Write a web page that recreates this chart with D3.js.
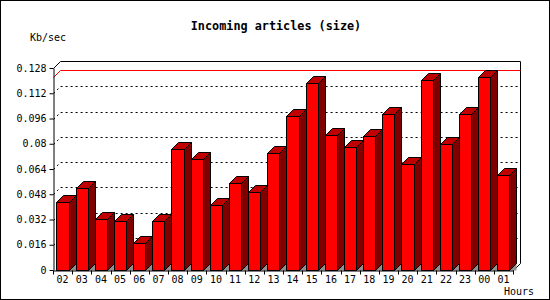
<!DOCTYPE html>
<html lang="en">
<head>
<meta charset="UTF-8">
<title>Incoming articles (size)</title>
<script src="https://d3js.org/d3.v7.min.js"></script>
<style>
    body {margin: 0; background: #fff;}
    text {font-family: "DejaVu Sans Mono", monospace;}
</style>
</head>
<body>
<div id="chart"></div>
<script>
// Hours on the x axis
var hours = ["02","03","04","05","06","07","08","09","10","11","12","13",
             "14","15","16","17","18","19","20","21","22","23","00","01"];
// Kb/sec per hour
var sizes = [0.0429, 0.0518, 0.0321, 0.0309, 0.0169, 0.0309, 0.0765, 0.0705,
             0.0410, 0.0549, 0.0492, 0.0739, 0.0974, 0.1183, 0.0853, 0.0777,
             0.0847, 0.0986, 0.0670, 0.1202, 0.0796, 0.0986, 0.1221, 0.0600];
var yTicks = [0, 0.016, 0.032, 0.048, 0.064, 0.08, 0.096, 0.112, 0.128];

var width = 550, height = 300;
// plot box (front plane); "top" is taken by window.top so use other names
var plotLeft = 53, plotRight = 513, plotBottom = 270, plotTop = 68;
var depth = 7;

var data = hours.map(function(h, i){ return {hour: h, size: sizes[i]}; });

var svg = d3.select("#chart").append("svg")
    .attr("width", width)
    .attr("height", height);

// outer border
svg.append("rect")
    .attr("x", 0.5).attr("y", 0.5)
    .attr("width", width - 1).attr("height", height - 1)
    .attr("fill", "#fff").attr("stroke", "#000");

var x = d3.scaleBand()
    .domain(hours)
    .range([plotLeft, plotRight]);

var y = d3.scaleLinear()
    .domain([0, 0.128])
    .range([plotBottom, plotTop]);

function yr(v){ return Math.round(y(v)); }

// dotted grid lines on the back wall
svg.append("g").selectAll("path")
    .data(yTicks.slice(1, -1))
    .enter().append("path")
        .attr("d", function(d){
            return "M" + plotLeft + "," + yr(d) + "L" + (plotLeft + depth) + "," + (yr(d) - depth) +
                   "L" + (plotRight + depth) + "," + (yr(d) - depth);
        })
        .attr("fill", "none")
        .attr("stroke", "#000")
        .attr("stroke-dasharray", "2,3")
        .attr("transform", "translate(0.5,0.5)");

// back wall frame
svg.append("path")
    .attr("d", "M" + plotLeft + "," + plotTop + "L" + (plotLeft + depth) + "," + (plotTop - depth) +
               "L" + (plotRight + depth) + "," + (plotTop - depth) +
               "L" + (plotRight + depth) + "," + (plotBottom - depth) +
               "L" + plotRight + "," + plotBottom)
    .attr("fill", "none")
    .attr("stroke", "#000")
    .attr("transform", "translate(0.5,0.5)");

// max line
var maxVal = d3.max(sizes);
svg.append("path")
    .attr("d", "M" + plotLeft + "," + yr(maxVal) + "L" + (plotLeft + depth) + "," + (yr(maxVal) - depth) +
               "L" + (plotRight + depth) + "," + (yr(maxVal) - depth))
    .attr("fill", "none")
    .attr("stroke", "#ff0000")
    .attr("transform", "translate(0.5,0.5)");

// 3D bars
var barOff = x.step() * 0.18;
var barW = x.step() * 0.63;

function x0(d){ return Math.round(x(d.hour) + barOff); }
function x1(d){ return Math.round(x(d.hour) + barOff + barW); }

var bars = svg.append("g").attr("transform", "translate(0.5,0.5)")
    .selectAll("g")
    .data(data)
    .enter().append("g");

// floor shadow
bars.append("path")
    .attr("d", function(d){
        var r = x1(d);
        return "M" + r + "," + plotBottom + "L" + (r + depth) + "," + (plotBottom - depth) +
               "L" + (r + depth) + "," + plotBottom + "Z";
    })
    .attr("fill", "#909090");

// side face
bars.append("path")
    .attr("d", function(d){
        var r = x1(d), yt = yr(d.size);
        return "M" + r + "," + plotBottom + "L" + (r + depth) + "," + (plotBottom - depth) +
               "L" + (r + depth) + "," + (yt - depth) + "L" + r + "," + yt + "Z";
    })
    .attr("fill", "#800000")
    .attr("stroke", "#000");

// top face
bars.append("path")
    .attr("d", function(d){
        var l = x0(d), r = x1(d), yt = yr(d.size);
        return "M" + l + "," + yt + "L" + (l + depth) + "," + (yt - depth) +
               "L" + (r + depth) + "," + (yt - depth) + "L" + r + "," + yt + "Z";
    })
    .attr("fill", "#c00000")
    .attr("stroke", "#000");

// front face
bars.append("rect")
    .attr("x", x0)
    .attr("y", function(d){ return yr(d.size); })
    .attr("width", function(d){ return x1(d) - x0(d); })
    .attr("height", function(d){ return plotBottom - yr(d.size); })
    .attr("fill", "#ff0000")
    .attr("stroke", "#000");

// y axis
var yAxis = d3.axisLeft(y)
    .tickValues(yTicks)
    .tickFormat(function(d){ return String(+d.toFixed(3)); })
    .tickSize(4)
    .tickSizeOuter(0)
    .tickPadding(3);

var gy = svg.append("g")
    .attr("transform", "translate(" + (plotLeft + 0.5) + ",0)")
    .call(yAxis);

// x axis: labels at band centres, ticks at band edges
var xAxis = d3.axisBottom(x).tickSize(0).tickSizeOuter(0).tickPadding(5);
var gx = svg.append("g")
    .attr("transform", "translate(0," + (plotBottom + 0.5) + ")")
    .call(xAxis);

gx.selectAll(".edge")
    .data(hours.concat(["end"]))
    .enter().append("line")
        .attr("class", "edge")
        .attr("x1", function(d, i){ return Math.round(i < hours.length ? x(d) : plotRight) + 0.5; })
        .attr("x2", function(d, i){ return Math.round(i < hours.length ? x(d) : plotRight) + 0.5; })
        .attr("y1", 0).attr("y2", 4)
        .attr("stroke", "#000");

[gx, gy].forEach(function(g){
    g.selectAll("text")
        .attr("font-family", "DejaVu Sans Mono, monospace")
        .attr("font-size", "10px")
        .attr("fill", "#000");
    g.selectAll("path, line").attr("stroke", "#000");
});

// titles
svg.append("text")
    .attr("x", 276).attr("y", 30)
    .attr("text-anchor", "middle")
    .attr("font-size", "11.8px")
    .attr("font-weight", "bold")
    .text("Incoming articles (size)");

svg.append("text")
    .attr("x", 30).attr("y", 41)
    .attr("font-size", "10px")
    .text("Kb/sec");

svg.append("text")
    .attr("x", 534).attr("y", 295)
    .attr("text-anchor", "end")
    .attr("font-size", "10px")
    .text("Hours");
</script>
</body>
</html>
